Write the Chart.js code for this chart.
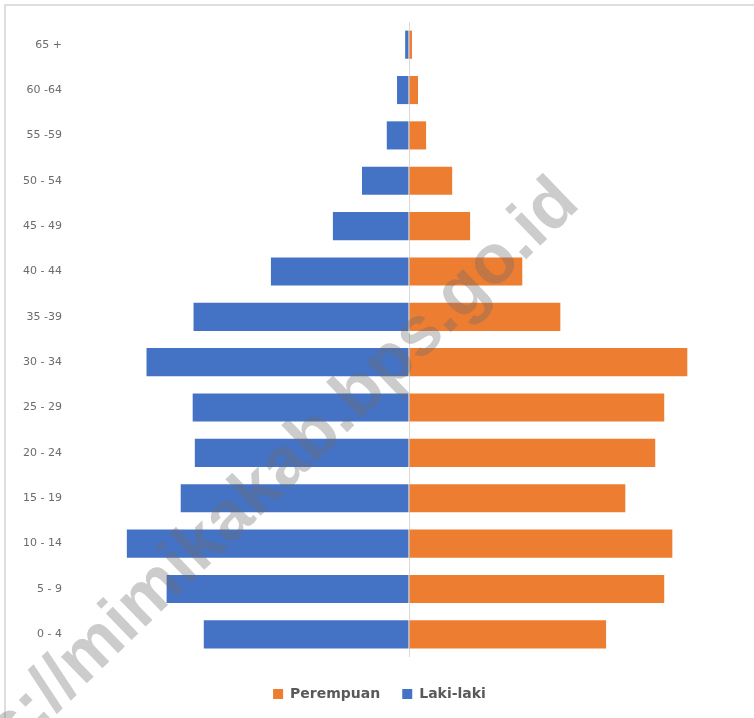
<!DOCTYPE html>
<html>
<head>
<meta charset="utf-8">
<script src="https://cdn.jsdelivr.net/npm/chart.js"></script>
<style>
  body { margin: 0; background: #fff; }
  .chart { width: 754px; height: 718px; }
</style>
</head>
<body>
<div class="chart"><canvas id="myChart"></canvas></div>
<script>
// kelompok umur, dari bawah ke atas
const ageGroups = ['0 - 4', '5 - 9', '10 - 14', '15 - 19', '20 - 24', '25 - 29', '30 - 34',
  '35 -39', '40 - 44', '45 - 49', '50 - 54', '55 -59', '60 -64', '65 +'];
// persen penduduk (perkiraan dari gambar)
const lakiLaki = [4.80, 5.67, 6.60, 5.34, 5.01, 5.06, 6.14, 5.04, 3.23, 1.78, 1.10, 0.52, 0.28, 0.09];
const perempuan = [4.61, 5.97, 6.16, 5.06, 5.76, 5.97, 6.51, 3.54, 2.65, 1.43, 1.01, 0.40, 0.21, 0.07];
const watermark = 'https://mimikakab.bps.go.id';

const frame = {
  id: 'frame',
  beforeDraw(chart) {
    const c = chart.ctx;
    c.save();
    c.strokeStyle = '#dedede';
    c.lineWidth = 2;
    c.beginPath();
    c.moveTo(5, chart.height);
    c.lineTo(5, 5);
    c.lineTo(chart.width, 5);
    c.stroke();
    c.restore();
  }
};

const stamp = {
  id: 'stamp',
  afterDraw(chart) {
    const c = chart.ctx;
    c.save();
    c.translate(568, 192);
    c.rotate(-44 * Math.PI / 180);
    c.font = 'bold 70px "Liberation Sans"';
    c.fillStyle = 'rgba(110,110,110,0.35)';
    c.textAlign = 'right';
    c.textBaseline = 'middle';
    c.fillText(watermark, 0, 0);
    c.restore();
  }
};

const ctx = document.getElementById('myChart');

const chart = new Chart(ctx, {
  type: 'bar',
  data: {
    labels: ageGroups,
    datasets: [{
      label: 'Perempuan',
      data: perempuan,
      backgroundColor: '#ED7D31',
      barPercentage: 0.62,
      categoryPercentage: 1
    }, {
      label: 'Laki-laki',
      data: lakiLaki.map(v => -v),
      backgroundColor: '#4472C4',
      barPercentage: 0.62,
      categoryPercentage: 1
    }]
  },
  options: {
    indexAxis: 'y',
    maintainAspectRatio: false,
    animation: false,
    layout: { padding: { top: 22, right: 3, left: 8, bottom: 7 } },
    scales: {
      x: {
        stacked: true,
        min: -8,
        max: 8,
        ticks: { display: false },
        border: { display: false },
        grid: {
          drawTicks: false,
          lineWidth: 1,
          color: c => c.tick && c.tick.value === 0 ? '#d9d9d9' : 'rgba(0,0,0,0)'
        },
        afterFit: s => { s.height = 8; }
      },
      y: {
        stacked: true,
        reverse: true,
        border: { display: false },
        grid: { display: false, drawTicks: false },
        ticks: {
          padding: 5,
          color: '#6b6b6b',
          font: { family: 'DejaVu Sans', size: 11 }
        },
        afterFit: s => { s.width = 59; }
      }
    },
    plugins: {
      legend: {
        position: 'bottom',
        labels: {
          boxWidth: 10,
          boxHeight: 10,
          padding: 22,
          color: '#595959',
          font: { family: 'DejaVu Sans', size: 14, weight: 'bold' }
        }
      },
      tooltip: {
        callbacks: {
          label: item => item.dataset.label + ': ' + Math.abs(item.raw) + '%'
        }
      }
    }
  },
  plugins: [frame, stamp]
});
</script>
</body>
</html>
